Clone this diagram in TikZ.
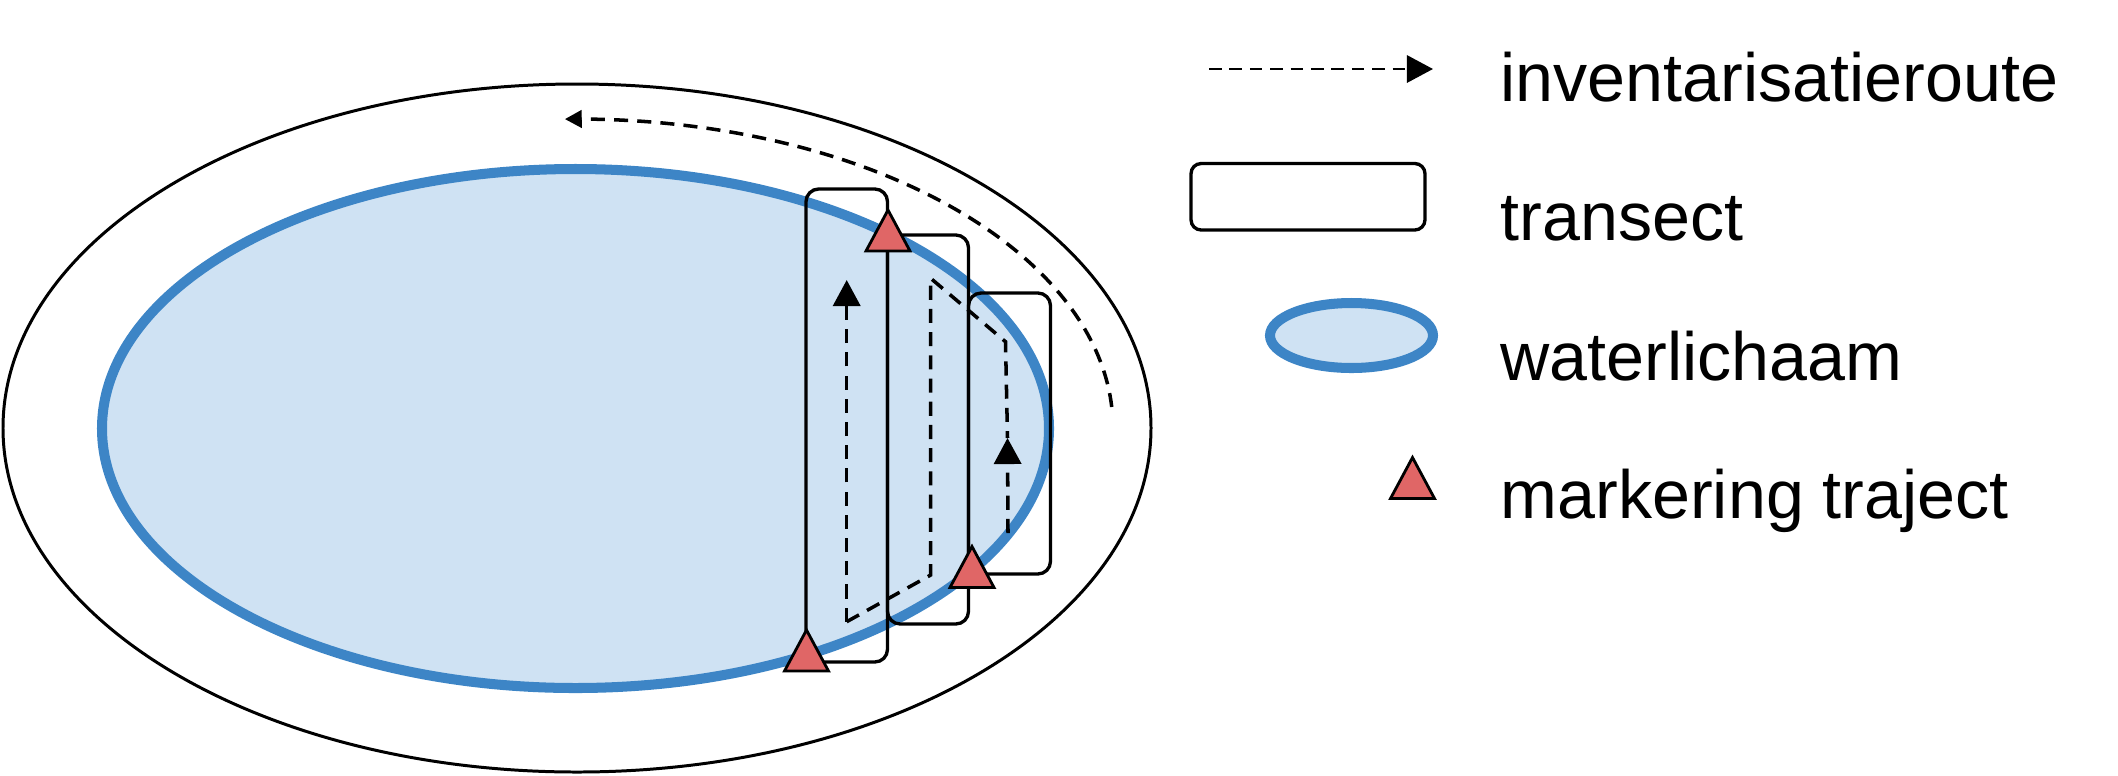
\documentclass[tikz,border=0pt]{standalone}
\usepackage{fontspec}
\setmainfont{Liberation Sans}
\usetikzlibrary{arrows.meta}
\definecolor{wblue}{HTML}{3D85C6}
\definecolor{wfill}{HTML}{CFE2F3}
\definecolor{mred}{HTML}{E06666}
\tikzset{
  outerline/.style={draw=black, line width=0.85pt},
  water/.style={draw=wblue, fill=wfill, line width=2.85pt},
  transect/.style={draw=black, line width=0.95pt, rounded corners=3.6pt},
  route/.style={draw=black, line width=1pt, dash pattern=on 4pt off 2.6pt},
  bigtip/.style={-{Triangle[width=7.7pt,length=7.4pt]}},
  smalltip/.style={-{Triangle[width=4.9pt,length=4.8pt]}},
  marktri/.pic={\draw[draw=black, fill=mred, line width=0.8pt, line join=miter] (-22,20.5) -- (0,-20.5) -- (22,20.5) -- cycle;},
  legtext/.style={anchor=base west, inner sep=0pt, font=\fontsize{19.4}{23}\selectfont}
}
\begin{document}
\begin{tikzpicture}[x=0.01cm, y=-0.01cm]
\useasboundingbox (0,0) rectangle (2118,775);
% outer area
\draw[outerline] (577,428) ellipse [x radius=574, y radius=344];
% water body
\draw[water] (575.5,428.5) ellipse [x radius=473.5, y radius=259.5];
% outer route
\draw[route, smalltip] plot[domain=-3.9:-91.3, samples=90] ({577+536*cos(\x)}, {428+309*sin(\x)});
% transects
\draw[transect] (806,189) rectangle (887.5,662);
\draw[transect] (887.5,235) rectangle (968.5,624);
\draw[transect] (968.5,293) rectangle (1050.5,574);
% inner route
\coordinate (r0) at (846.7,621.7);
\coordinate (r1) at (846.7,280);
\coordinate (r2) at (930.7,575);
\coordinate (r3) at (930.7,278.3);
\coordinate (r4) at (1005.5,341.7);
\coordinate (r5) at (1007.5,438);
\coordinate (r6) at (1008,533);
\draw[route, bigtip] (r0) -- (r1);
\draw[route] (r0) -- (r2) -- (r3) -- (r4) -- (r5);
\draw[route, bigtip] (r6) -- (r5);
% markers
\pic (t1) at (888,230.5) {marktri};
\pic (t2) at (972,567) {marktri};
\pic (t3) at (806.5,650.5) {marktri};
% legend
\coordinate (la) at (1209,69);
\coordinate (lb) at (1433,69);
\draw[route, line width=0.8pt, dash pattern=on 3.6pt off 2.2pt, bigtip] (la) -- (lb);
\node[legtext] (txt1) at (1500,101) {inventarisatieroute};
\draw[transect, rounded corners=2.9pt] (1191,163.5) rectangle (1425,230);
\node[legtext] (txt2) at (1500,240.7) {transect};
\draw[water] (1351.5,335.5) ellipse [x radius=81.5, y radius=32.5];
\node[legtext] (txt3) at (1500,380) {waterlichaam};
\pic (t4) at (1412.5,478) {marktri};
\node[legtext] (txt4) at (1500,518.3) {markering traject};
\end{tikzpicture}
\end{document}
